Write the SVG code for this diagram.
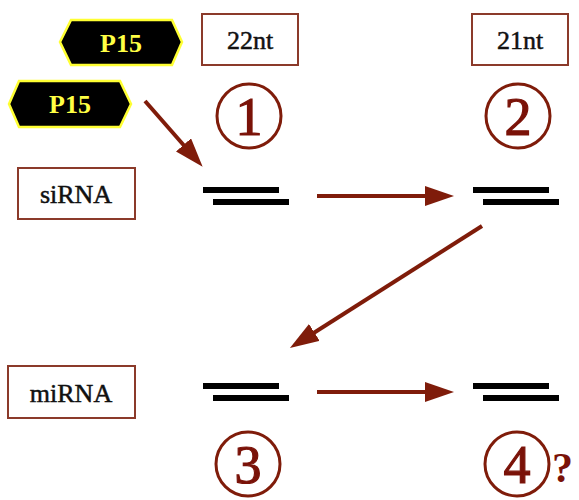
<svg xmlns="http://www.w3.org/2000/svg" width="579" height="500" viewBox="0 0 579 500">
<style>
.box{fill:#fff;stroke:#8b3a2a;stroke-width:2}
.lbl{font-family:"Liberation Serif","DejaVu Serif",serif;font-size:26px;fill:#111;stroke:#111;stroke-width:0.5;text-anchor:middle}
.hex{fill:#000;stroke:#ffff33;stroke-width:2.5}
.p15{font-family:"Liberation Serif","DejaVu Serif",serif;font-size:26px;font-weight:bold;fill:#ffff44;text-anchor:middle}
.num{fill:none;stroke:#7f1c0a;stroke-width:3}
.dig{font-family:"Liberation Serif","DejaVu Serif",serif;font-size:54px;fill:#7a1208;stroke:#7a1208;stroke-width:1.2;text-anchor:middle}
.dup{fill:#000}
.arr{stroke:#7f1c0a;stroke-width:4;fill:none;marker-end:url(#ah)}
</style>
<defs>
<marker id="ah" markerUnits="userSpaceOnUse" markerWidth="32" markerHeight="22" refX="20" refY="10" orient="auto">
<path d="M0,0 L29,10 L0,20 z" fill="#7f1c0a"/>
</marker>
</defs>
<g id="p15-top"><polygon class="hex" points="60,42 71,20 172,20 182,42 172,65 71,65"/><text class="p15" x="121" y="52">P15</text></g>
<g id="p15-bottom"><polygon class="hex" points="9,104 19,81 120,81 131,104 120,127 19,127"/><text class="p15" x="70" y="113">P15</text></g>
<g id="box-22nt"><rect class="box" x="202" y="14" width="96" height="51"/><text class="lbl" x="250" y="49">22nt</text></g>
<g id="box-21nt"><rect class="box" x="472" y="14" width="96" height="51"/><text class="lbl" x="520" y="49">21nt</text></g>
<g id="box-sirna"><rect class="box" x="18" y="168" width="117" height="51"/><text class="lbl" x="76" y="203">siRNA</text></g>
<g id="box-mirna"><rect class="box" x="8" y="366" width="127" height="52"/><text class="lbl" x="71" y="402">miRNA</text></g>
<g id="num-1"><circle class="num" cx="249" cy="116" r="32"/><text class="dig" x="249" y="135">1</text></g>
<g id="num-2"><circle class="num" cx="518" cy="116" r="32"/><text class="dig" x="518" y="135">2</text></g>
<g id="num-3"><circle class="num" cx="248" cy="464" r="32"/><text class="dig" x="248" y="483">3</text></g>
<g id="num-4"><circle class="num" cx="517" cy="464" r="32"/><text class="dig" x="517" y="483">4</text><text x="552" y="482" style="font-family:'Liberation Serif','DejaVu Serif',serif;font-size:42px;font-weight:bold;fill:#7a1208">?</text></g>
<g id="duplex-1"><rect class="dup" x="203" y="187" width="76" height="6"/><rect class="dup" x="213" y="199" width="76" height="6"/></g>
<g id="duplex-2"><rect class="dup" x="473" y="187" width="76" height="6"/><rect class="dup" x="483" y="199" width="76" height="6"/></g>
<g id="duplex-3"><rect class="dup" x="203" y="383" width="76" height="6"/><rect class="dup" x="213" y="395" width="76" height="6"/></g>
<g id="duplex-4"><rect class="dup" x="473" y="383" width="76" height="6"/><rect class="dup" x="483" y="395" width="76" height="6"/></g>
<g id="connectors">
<line class="arr" x1="145" y1="101" x2="196.7" y2="160"/>
<line class="arr" x1="317" y1="196" x2="445" y2="196"/>
<line class="arr" x1="482" y1="226" x2="297.5" y2="343.2"/>
<line class="arr" x1="317" y1="392" x2="445" y2="392"/>
</g>
</svg>
